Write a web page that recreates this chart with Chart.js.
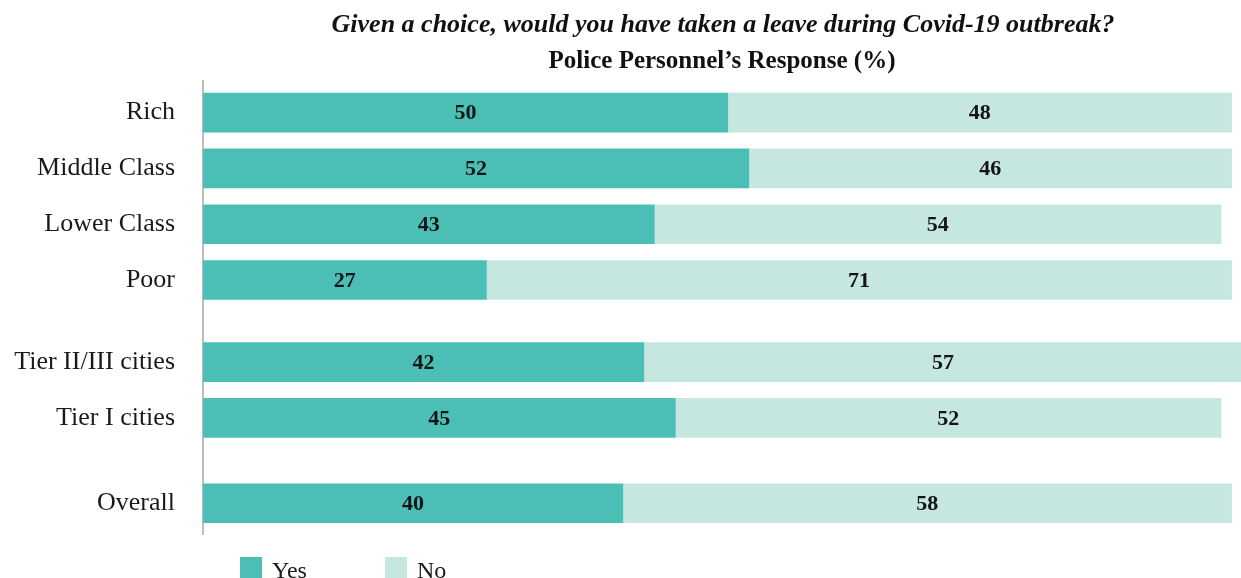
<!DOCTYPE html>
<html>
<head>
<meta charset="utf-8">
<script src="https://cdn.jsdelivr.net/npm/chart.js@4/dist/chart.umd.min.js"></script>
<style>
  body { margin: 0; background: #fff; overflow: hidden; }
  #wrap { position: relative; width: 1241px; height: 578px; }
  #legend { position: absolute; left: 240px; top: 557px; font: 24px "Liberation Serif", serif; color: #1a1a1a; }
  .item { position: absolute; top: 0; white-space: nowrap; display: flex; align-items: flex-start; }
  .swatch { width: 22px; height: 22px; margin-right: 10px; }
  .item span { line-height: 24px; margin-top: 1px; }
</style>
</head>
<body>
<div id="wrap">
  <canvas id="chart" width="1241" height="578"></canvas>
  <div id="legend"></div>
</div>
<script>
const categories = ["Rich", "Middle Class", "Lower Class", "Poor", "Tier II/III cities", "Tier I cities", "Overall"];
// row positions on the y axis, with wider gaps between the groups
const rowPositions = [0, 1, 2, 3, 4.47, 5.47, 7.0];
const yesValues = [50, 52, 43, 27, 42, 45, 40];
const noValues = [48, 46, 54, 71, 57, 52, 58];
const seriesNames = ["Yes", "No"];
const seriesColors = ["#4bbfb6", "#c5e7e0"];

const titleText = "Given a choice, would you have taken a leave during Covid-19 outbreak?";
const subtitleText = "Police Personnel\u2019s Response (%)";

const serif = '"Liberation Serif", "Times New Roman", serif';

const toPoints = values => values.map((v, i) => ({ x: v, y: rowPositions[i] }));

const headings = {
  id: "headings",
  afterDraw(chart) {
    const { ctx, chartArea } = chart;
    const cx = (chartArea.left + chartArea.right) / 2;
    ctx.save();
    ctx.fillStyle = "#111";
    ctx.textAlign = "center";
    ctx.textBaseline = "middle";
    ctx.font = "italic bold 26px " + serif;
    ctx.fillText(titleText, cx + 1, 25);
    ctx.font = "bold 25px " + serif;
    ctx.fillText(subtitleText, cx, 62);
    ctx.restore();
  }
};

const barLabels = {
  id: "barLabels",
  afterDatasetsDraw(chart) {
    const { ctx } = chart;
    ctx.save();
    ctx.fillStyle = "#141414";
    ctx.font = "bold 22px " + serif;
    ctx.textAlign = "center";
    ctx.textBaseline = "middle";
    chart.data.datasets.forEach((ds, di) => {
      chart.getDatasetMeta(di).data.forEach((bar, i) => {
        const { x, base, y } = bar.getProps(["x", "base", "y"], true);
        ctx.fillText(ds.data[i].x, (x + base) / 2, y + 1);
      });
    });
    ctx.restore();
  }
};

const chart = new Chart(document.getElementById("chart"), {
  type: "bar",
  data: {
    datasets: [
      { label: seriesNames[0], data: toPoints(yesValues), backgroundColor: seriesColors[0] },
      { label: seriesNames[1], data: toPoints(noValues), backgroundColor: seriesColors[1] }
    ]
  },
  options: {
    indexAxis: "y",
    responsive: false,
    animation: false,
    barThickness: 39,
    layout: { padding: { top: 81, bottom: 36, left: 0, right: 0 } },
    plugins: {
      legend: { display: false },
      tooltip: { enabled: false }
    },
    scales: {
      x: {
        stacked: true,
        min: 0,
        max: 98.9,
        display: false
      },
      y: {
        type: "linear",
        stacked: true,
        reverse: true,
        offset: false,
        min: -0.566,
        max: 7.558,
        grid: { display: false, drawTicks: false },
        border: { display: true, color: "#bdbdbd", width: 2 },
        afterBuildTicks: scale => {
          scale.ticks = rowPositions.map(v => ({ value: v }));
        },
        afterFit: scale => {
          scale.width = 203;
        },
        ticks: {
          padding: 28,
          color: "#1a1a1a",
          font: { family: serif, size: 26 },
          callback: value => categories[rowPositions.indexOf(value)]
        }
      }
    }
  },
  plugins: [headings, barLabels]
});

// legend under the plot
const legendEl = document.getElementById("legend");
const legendOffsets = [0, 145];
seriesNames.forEach((name, i) => {
  const item = document.createElement("div");
  item.className = "item";
  item.style.left = legendOffsets[i] + "px";
  item.innerHTML = `<div class="swatch" style="background:${seriesColors[i]}"></div><span>${name}</span>`;
  legendEl.appendChild(item);
});
</script>
</body>
</html>
